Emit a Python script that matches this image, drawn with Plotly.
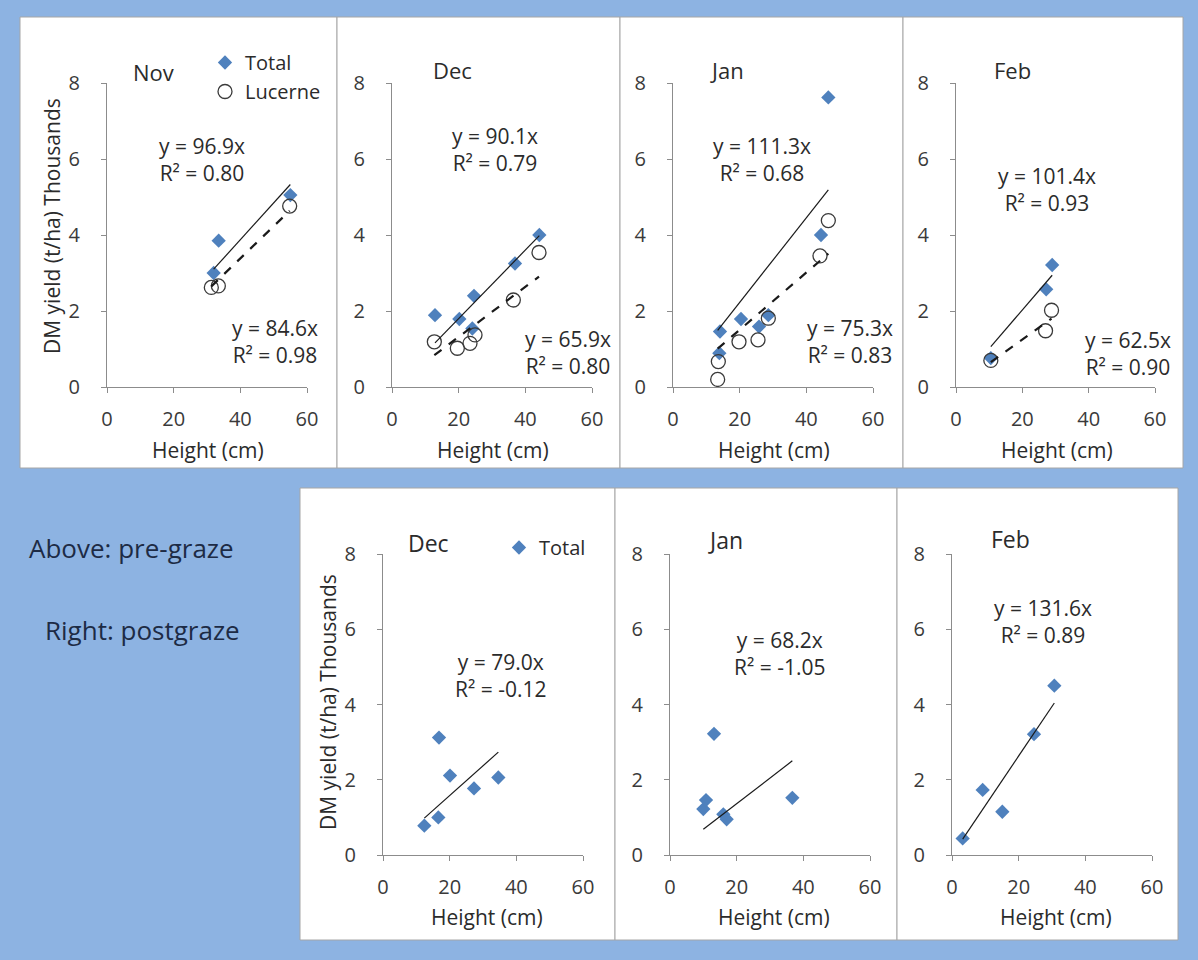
import plotly.graph_objects as go

# ---------------- data (DM yield in thousand kg/ha vs sward height in cm) ----------------
# Pre-graze, total herbage
NOV_TOTAL_H = [32.0, 33.5, 55.0]
NOV_TOTAL_DM = [3.00, 3.85, 5.05]
DEC_PRE_TOTAL_H = [12.9, 20.2, 24.1, 24.6, 36.9, 44.2]
DEC_PRE_TOTAL_DM = [1.89, 1.79, 1.54, 2.40, 3.25, 4.00]
JAN_PRE_TOTAL_H = [13.9, 14.1, 20.4, 25.8, 28.6, 44.4, 46.6]
JAN_PRE_TOTAL_DM = [0.89, 1.46, 1.79, 1.59, 1.89, 4.00, 7.62]
FEB_PRE_TOTAL_H = [10.5, 27.2, 29.0]
FEB_PRE_TOTAL_DM = [0.76, 2.57, 3.21]

# Pre-graze, lucerne component
NOV_LUC_H = [31.3, 33.4, 54.8]
NOV_LUC_DM = [2.62, 2.66, 4.76]
DEC_PRE_LUC_H = [12.7, 19.6, 23.4, 24.9, 36.4, 44.1]
DEC_PRE_LUC_DM = [1.19, 1.02, 1.15, 1.37, 2.29, 3.54]
JAN_PRE_LUC_H = [13.4, 13.6, 19.8, 25.5, 28.6, 44.1, 46.6]
JAN_PRE_LUC_DM = [0.20, 0.67, 1.19, 1.24, 1.81, 3.45, 4.38]
FEB_PRE_LUC_H = [10.5, 27.0, 28.8]
FEB_PRE_LUC_DM = [0.70, 1.48, 2.02]

# Post-graze, total herbage
DEC_POST_H = [12.4, 16.6, 16.8, 20.1, 27.3, 34.6]
DEC_POST_DM = [0.78, 1.00, 3.12, 2.11, 1.77, 2.06]
JAN_POST_H = [10.0, 10.8, 13.2, 16.0, 17.0, 36.7]
JAN_POST_DM = [1.22, 1.46, 3.22, 1.08, 0.95, 1.52]
FEB_POST_H = [3.2, 9.2, 15.1, 24.6, 30.7]
FEB_POST_DM = [0.44, 1.73, 1.15, 3.21, 4.50]

# Regression through origin: slope (kg DM/ha per cm) and R²
PRE_TOTAL_SLOPE = [96.9, 90.1, 111.3, 101.4]
PRE_TOTAL_R2 = [0.80, 0.79, 0.68, 0.93]
PRE_LUC_SLOPE = [84.6, 65.9, 75.3, 62.5]
PRE_LUC_R2 = [0.98, 0.80, 0.83, 0.90]
POST_TOTAL_SLOPE = [79.0, 68.2, 131.6]
POST_TOTAL_R2 = [-0.12, -1.05, 0.89]

PRE_MONTHS = ["Nov", "Dec", "Jan", "Feb"]
POST_MONTHS = ["Dec", "Jan", "Feb"]
X_TICKS = [0, 20, 40, 60]
Y_TICKS = [0, 2, 4, 6, 8]

# ---------------- layout helpers ----------------
W, H = 1198, 960
BG = "#8DB3E2"
BLUE = "#4F81BD"
TEXT = "#2b2b2b"
AXIS = "#8c8c8c"
FONT = "Open Sans"


def fx(px):
    return px / W


def fy(py):
    return 1 - py / H


# plot-area pixel boxes: (left, right, top, bottom)
PRE_BOXES = [(107, 307, 83, 387), (392, 592, 83, 387),
             (673, 873, 83, 387), (956, 1155, 83, 387)]
POST_BOXES = [(383, 583, 554, 855), (670, 870, 554, 855), (952, 1152, 554, 855)]
PRE_FRAMES = [(20, 337), (337, 620), (620, 903), (903, 1183)]
POST_FRAMES = [(300, 615), (615, 897), (897, 1178)]

pre_total = [(NOV_TOTAL_H, NOV_TOTAL_DM), (DEC_PRE_TOTAL_H, DEC_PRE_TOTAL_DM),
             (JAN_PRE_TOTAL_H, JAN_PRE_TOTAL_DM), (FEB_PRE_TOTAL_H, FEB_PRE_TOTAL_DM)]
pre_luc = [(NOV_LUC_H, NOV_LUC_DM), (DEC_PRE_LUC_H, DEC_PRE_LUC_DM),
           (JAN_PRE_LUC_H, JAN_PRE_LUC_DM), (FEB_PRE_LUC_H, FEB_PRE_LUC_DM)]
post_total = [(DEC_POST_H, DEC_POST_DM), (JAN_POST_H, JAN_POST_DM), (FEB_POST_H, FEB_POST_DM)]

fig = go.Figure()
shapes = []
annotations = []


def axis_ids(i):
    return ("x" if i == 1 else f"x{i}"), ("y" if i == 1 else f"y{i}")


def add_axes(i, box):
    left, right, top, bottom = box
    common = dict(showline=True, linecolor=AXIS, linewidth=1.3, ticks="outside",
                  ticklen=5, tickcolor=AXIS, showgrid=False, zeroline=False,
                  automargin=False,
                  tickfont=dict(family=FONT, size=20, color="#3a3a3a"), fixedrange=True)
    xa = dict(domain=[fx(left), fx(right)], range=[0, 60], tickvals=X_TICKS,
              anchor=axis_ids(i)[1], ticklabelstandoff=9, **common)
    ya = dict(domain=[fy(bottom), fy(top)], range=[0, 8], tickvals=Y_TICKS,
              anchor=axis_ids(i)[0], ticklabelstandoff=17, **common)
    key = "" if i == 1 else str(i)
    fig.update_layout(**{f"xaxis{key}": xa, f"yaxis{key}": ya})


def trend(i, xs, slope, dash, width):
    xa, ya = axis_ids(i)
    x0, x1 = min(xs), max(xs)
    fig.add_trace(go.Scatter(x=[x0, x1], y=[slope / 1000 * x0, slope / 1000 * x1],
                             mode="lines", xaxis=xa, yaxis=ya, showlegend=False,
                             hoverinfo="skip",
                             line=dict(color="#1a1a1a", width=width, dash=dash)))


def eq_label(slope, r2):
    return f"y = {slope:.1f}x<br>R² = {r2:.2f}"


def note(text, px, py, size=21, **kw):
    annotations.append(dict(text=text, x=fx(px), y=fy(py), xref="paper", yref="paper",
                            showarrow=False, font=dict(family=FONT, size=size, color=TEXT),
                            xanchor="center", yanchor="middle", **kw))


# white chart frames
for l, r in PRE_FRAMES:
    shapes.append(dict(type="rect", xref="paper", yref="paper", x0=fx(l), x1=fx(r),
                       y0=fy(468), y1=fy(17), fillcolor="white",
                       line=dict(color="#a6a6a6", width=1), layer="below"))
for l, r in POST_FRAMES:
    shapes.append(dict(type="rect", xref="paper", yref="paper", x0=fx(l), x1=fx(r),
                       y0=fy(940), y1=fy(488), fillcolor="white",
                       line=dict(color="#a6a6a6", width=1), layer="below"))

# label placements (pixel centres)
PRE_TITLE_POS = [(153, 72), (452, 70), (727, 70), (1013, 70)]
PRE_TOTAL_EQ_POS = [(202, 160), (495, 149), (762, 160), (1047, 190)]
PRE_LUC_EQ_POS = [(275, 341), (568, 352), (850, 341), (1128, 353)]
POST_TITLE_POS = [(428, 543), (725, 540), (1010, 539)]
POST_EQ_POS = [(500, 675), (780, 653), (1043, 621)]

# ---------------- pre-graze row ----------------
for k in range(4):
    i = k + 1
    add_axes(i, PRE_BOXES[k])
    xa, ya = axis_ids(i)
    th, tdm = pre_total[k]
    lh, ldm = pre_luc[k]
    fig.add_trace(go.Scatter(x=th, y=tdm, mode="markers", name="Total", xaxis=xa, yaxis=ya,
                             showlegend=(k == 0), legend="legend",
                             marker=dict(symbol="diamond", size=11, color=BLUE)))
    fig.add_trace(go.Scatter(x=lh, y=ldm, mode="markers", name="Lucerne", xaxis=xa, yaxis=ya,
                             showlegend=(k == 0), legend="legend",
                             marker=dict(symbol="circle-open", size=14,
                                         color="#3a3a3a", line=dict(width=1.3))))
    trend(i, th + lh if k == 2 else th, PRE_TOTAL_SLOPE[k], "solid", 1.2)
    trend(i, lh, PRE_LUC_SLOPE[k], "dash", 2.2)
    left, right, top, bottom = PRE_BOXES[k]
    note(PRE_MONTHS[k], *PRE_TITLE_POS[k], size=22)
    note(eq_label(PRE_TOTAL_SLOPE[k], PRE_TOTAL_R2[k]), *PRE_TOTAL_EQ_POS[k])
    note(eq_label(PRE_LUC_SLOPE[k], PRE_LUC_R2[k]), *PRE_LUC_EQ_POS[k])
    note("Height (cm)", (left + right) / 2 + 1, 450)

# ---------------- post-graze row ----------------
for k in range(3):
    i = k + 5
    add_axes(i, POST_BOXES[k])
    xa, ya = axis_ids(i)
    h, dm = post_total[k]
    fig.add_trace(go.Scatter(x=h, y=dm, mode="markers", name="Total", xaxis=xa, yaxis=ya,
                             showlegend=(k == 0), legend="legend2",
                             marker=dict(symbol="diamond", size=11, color=BLUE)))
    trend(i, h, POST_TOTAL_SLOPE[k], "solid", 1.2)
    left, right, top, bottom = POST_BOXES[k]
    note(POST_MONTHS[k], *POST_TITLE_POS[k], size=23)
    note(eq_label(POST_TOTAL_SLOPE[k], POST_TOTAL_R2[k]), *POST_EQ_POS[k])
    note("Height (cm)", (left + right) / 2 + 4, 917)

# y-axis titles
note("DM yield (t/ha) Thousands", 52, 226, size=21, textangle=-90)
note("DM yield (t/ha) Thousands", 328, 702, size=21, textangle=-90)

# side captions
for caption, cx, cy in [("Above: pre-graze", 27, 548), ("Right: postgraze", 43, 630)]:
    annotations.append(dict(text=caption, x=fx(cx), y=fy(cy), xref="paper", yref="paper",
                            showarrow=False, xanchor="left", yanchor="middle",
                            font=dict(family=FONT, size=26, color="#1d2b45")))

legend_style = dict(bgcolor="rgba(255,255,255,0)", borderwidth=0,
                    font=dict(family=FONT, size=20, color=TEXT),
                    xanchor="left", yanchor="top", itemwidth=30, tracegroupgap=0)

fig.update_layout(
    width=W, height=H, margin=dict(l=0, r=0, t=0, b=0, pad=0, autoexpand=False),
    paper_bgcolor=BG, plot_bgcolor="rgba(0,0,0,0)",
    shapes=shapes, annotations=annotations,
    legend=dict(x=fx(205), y=fy(43), **legend_style),
    legend2=dict(x=fx(499), y=fy(528), **legend_style),
    hovermode=False,
)

fig.write_html("out.html")
